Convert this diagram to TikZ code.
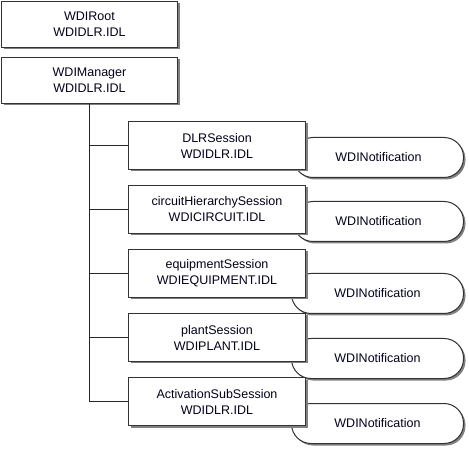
\documentclass[tikz,border=0pt]{standalone}
\usepackage{fontspec}
\setmainfont{Liberation Sans}
\usetikzlibrary{shadows}
\begin{document}
\begin{tikzpicture}[x=1pt,y=-1pt,
  shad/.style={drop shadow={shadow xshift=2pt, shadow yshift=-2pt, fill=black!50, opacity=1}},
  lbl/.style={font=\fontsize{12.5}{16}\selectfont, text=black!90!blue},
  box/.style={shad, lbl, draw=black!80, line width=1pt, fill=white, minimum width=176pt,
    minimum height=46pt, inner sep=0pt, align=center, anchor=north west},
  sbox/.style={box, minimum width=177pt, minimum height=48pt},
  notif/.style={shad, lbl, rectangle, rounded corners=19.5pt, draw=black!80, line width=1pt, fill=white,
    minimum height=40pt, inner sep=0pt, anchor=north west},
  tree/.style={draw=black!85, line width=1pt}]
\useasboundingbox (0,0) rectangle (469,449);
\node[box] (root) at (1,1) {WDIRoot\\WDIDLR.IDL};
\node[box] (mgr) at (1,57) {WDIManager\\WDIDLR.IDL};
\node[notif, minimum width=170pt] (n1) at (293,137) {WDINotification};
\node[notif, minimum width=170pt] (n2) at (293,201) {WDINotification};
\node[notif, minimum width=172pt] (n3) at (291,273) {WDINotification};
\node[notif, minimum width=172pt] (n4) at (291,338) {WDINotification};
\node[notif, minimum width=172pt] (n5) at (291,403) {WDINotification};
\node[sbox] (s1) at (128,121) {DLRSession\\WDIDLR.IDL};
\node[sbox] (s2) at (128,185) {circuitHierarchySession\\WDICIRCUIT.IDL};
\node[sbox] (s3) at (128,249) {equipmentSession\\WDIEQUIPMENT.IDL};
\node[sbox] (s4) at (128,313) {plantSession\\WDIPLANT.IDL};
\node[sbox] (s5) at (128,377) {ActivationSubSession\\WDIDLR.IDL};
\draw[tree] (mgr.south) |- (s5.west);
\foreach \s in {s1,s2,s3,s4}{
  \draw[tree] (mgr.south |- \s.west) -- (\s.west);
}
\end{tikzpicture}
\end{document}
